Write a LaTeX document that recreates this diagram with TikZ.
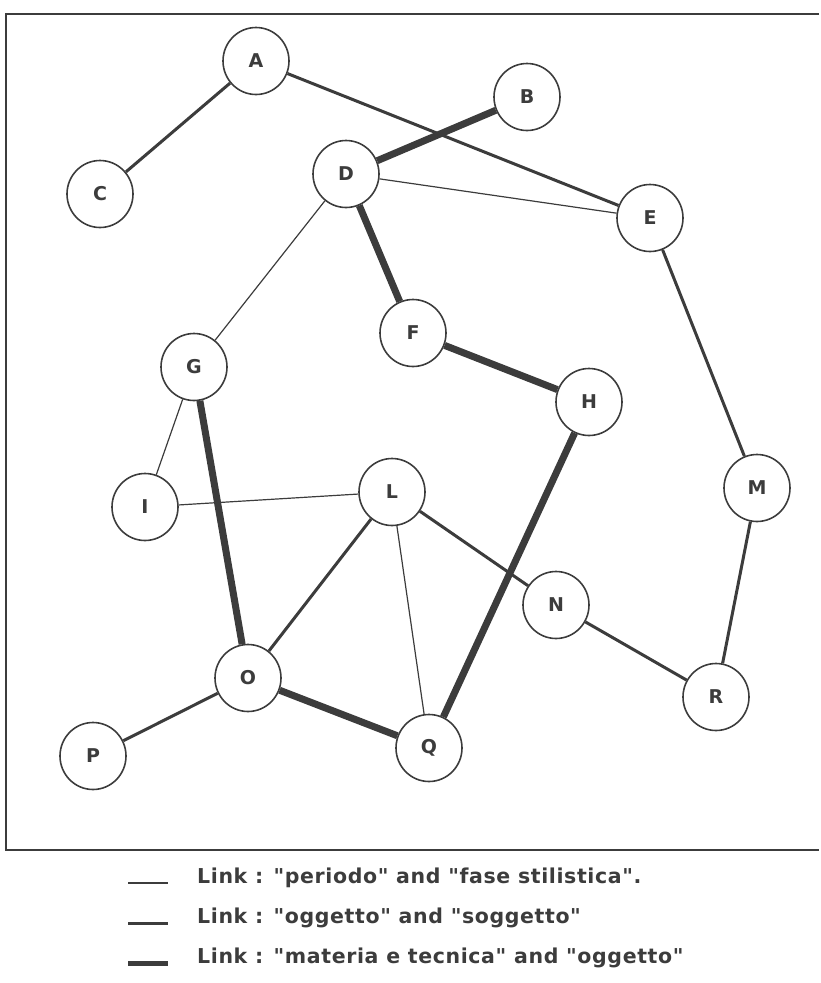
\documentclass[tikz,border=0pt]{standalone}
\usepackage{fontspec}
\setmainfont{DejaVu Sans}
\newfontfamily\plainfont{DejaVu Sans}[LetterSpace=3]
\usetikzlibrary{shapes.geometric}
\definecolor{ink}{HTML}{3C3C3C}
\tikzset{
  vtx/.style={ellipse, draw=ink, line width=1.6pt, minimum width=66pt, minimum height=67pt,
    inner sep=0pt, text=ink, font=\fontsize{19}{19}\selectfont\bfseries, fill=white},
  thinlink/.style={draw=ink, line width=1.2pt},
  midlink/.style={draw=ink, line width=3pt},
  thicklink/.style={draw=ink, line width=7pt},
  legtext/.style={anchor=base west, text=ink, font=\plainfont\fontsize{20.5}{21}\selectfont\bfseries, inner sep=0pt}
}
\begin{document}
\begin{tikzpicture}[x=1pt,y=-1pt]
\useasboundingbox (0,0) rectangle (820,983);
\draw[ink, line width=1.5pt] (819,14) -- (6,14) -- (6,850) -- (819,850);
% nodes
\node[vtx] (A) at (256,61) {A};
\node[vtx] (B) at (527,97) {B};
\node[vtx] (C) at (100,194) {C};
\node[vtx] (D) at (346,174) {D};
\node[vtx] (E) at (650,218) {E};
\node[vtx] (F) at (413,333) {F};
\node[vtx] (G) at (194,367) {G};
\node[vtx] (H) at (589,402) {H};
\node[vtx] (I) at (145,507) {I};
\node[vtx] (L) at (392,492) {L};
\node[vtx] (M) at (757,488) {M};
\node[vtx] (N) at (556,605) {N};
\node[vtx] (O) at (248,678) {O};
\node[vtx] (P) at (93,756) {P};
\node[vtx] (Q) at (429,748) {Q};
\node[vtx] (R) at (716,697) {R};
% connectors
\path[midlink] (A) -- (C);
\path[midlink] (A) -- (E);
\path[thicklink] (B) -- (D);
\path[thinlink] (D) -- (E);
\path[thinlink] (D) -- (G);
\path[thicklink] (D) -- (F);
\path[thicklink] (F) -- (H);
\path[midlink] (E) -- (M);
\path[midlink] (M) -- (R);
\path[thinlink] (G) -- (I);
\path[thicklink] (G) -- (O);
\path[thinlink] (I) -- (L);
\path[midlink] (L) -- (O);
\path[thinlink] (L) -- (Q);
\path[midlink] (L) -- (N);
\path[midlink] (N) -- (R);
\path[midlink] (O) -- (P);
\path[thicklink] (O) -- (Q);
\path[thicklink] (H) -- (Q);
% legend
\coordinate (l1a) at (128,883); \coordinate (l1b) at (168,883);
\coordinate (l2a) at (128,923); \coordinate (l2b) at (168,923);
\coordinate (l3a) at (128,963); \coordinate (l3b) at (168,963);
\path[thinlink] (l1a) -- (l1b);
\path[midlink] (l2a) -- (l2b);
\path[draw=ink, line width=5pt] (l3a) -- (l3b);
\node[legtext] (t1) at (197,883) {Link : "periodo" and "fase stilistica".};
\node[legtext] (t2) at (197,923) {Link : "oggetto" and "soggetto"};
\node[legtext] (t3) at (197,963) {Link : "materia e tecnica" and "oggetto"};
\end{tikzpicture}
\end{document}
